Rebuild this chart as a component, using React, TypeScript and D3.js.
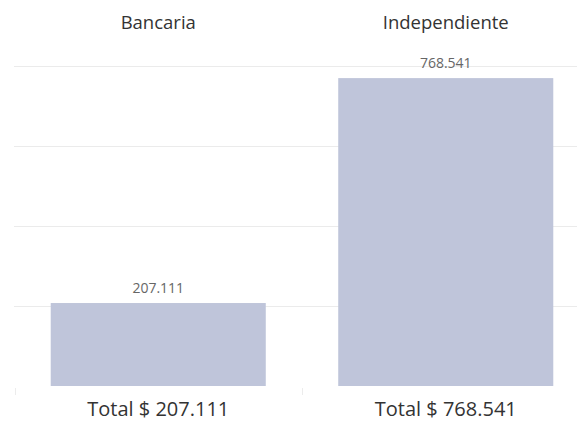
import React, { useEffect, useRef } from "react";
import * as d3 from "d3";

const categories = ["Bancaria", "Independiente"];
const values = [207111, 768541];
const yTicks = [200000, 400000, 600000, 800000];

const W = 577;
const H = 423;

const esFormat = d3.formatLocale({
  decimal: ",",
  thousands: ".",
  grouping: [3],
  currency: ["$ ", ""],
}).format(",d");

const App = () => {
  const ref = useRef<SVGSVGElement | null>(null);

  useEffect(() => {
    if (!ref.current) return;
    const svg = d3.select(ref.current);
    svg.selectAll("*").remove();

    const font = "'Open Sans', 'Noto Sans', sans-serif";
    const baseY = 386;

    const x = d3.scaleBand().domain(categories).range([14.5, 589.5]).padding(0);
    const y = d3.scaleLinear().domain([0, 800000]).range([baseY, 65.5]);
    const barW = x.bandwidth() * 0.748;

    // gridlines
    svg
      .append("g")
      .selectAll("line")
      .data(yTicks)
      .enter()
      .append("line")
      .attr("x1", 14)
      .attr("x2", W)
      .attr("y1", (d) => Math.round(y(d)) + 0.5)
      .attr("y2", (d) => Math.round(y(d)) + 0.5)
      .attr("stroke", "#ebebeb")
      .attr("stroke-width", 1);

    // category separators at bottom
    svg
      .append("g")
      .selectAll("line")
      .data(categories)
      .enter()
      .append("line")
      .attr("x1", (d) => Math.round(x(d)!) + 0.5)
      .attr("x2", (d) => Math.round(x(d)!) + 0.5)
      .attr("y1", baseY + 2)
      .attr("y2", baseY + 9)
      .attr("stroke", "#ececec");

    const data = categories.map((c, i) => ({ c, v: values[i] }));

    svg
      .selectAll(".bar")
      .data(data)
      .enter()
      .append("rect")
      .attr("class", "bar")
      .attr("x", (d) => x(d.c)! + (x.bandwidth() - barW) / 2)
      .attr("y", (d) => y(d.v))
      .attr("width", barW)
      .attr("height", (d) => baseY - y(d.v))
      .attr("fill", "#bfc5da");

    // value labels
    svg
      .selectAll(".val")
      .data(data)
      .enter()
      .append("text")
      .attr("x", (d) => x(d.c)! + x.bandwidth() / 2)
      .attr("y", (d) => y(d.v) - 10)
      .attr("text-anchor", "middle")
      .style("font-family", font)
      .style("font-size", "14px")
      .style("fill", "#666")
      .text((d) => esFormat(d.v));

    // top category labels
    svg
      .selectAll(".cat")
      .data(categories)
      .enter()
      .append("text")
      .attr("x", (d) => x(d)! + x.bandwidth() / 2)
      .attr("y", 29)
      .attr("text-anchor", "middle")
      .style("font-family", font)
      .style("font-size", "18.5px")
      .style("fill", "#333")
      .text((d) => d);

    // bottom totals
    svg
      .selectAll(".tot")
      .data(data)
      .enter()
      .append("text")
      .attr("x", (d) => x(d.c)! + x.bandwidth() / 2)
      .attr("y", 416)
      .attr("text-anchor", "middle")
      .style("font-family", font)
      .style("font-size", "20px")
      .style("fill", "#333")
      .text((d) => `Total $ ${esFormat(d.v)}`);
  }, []);

  return (
    <div style={{ position: "fixed", left: 0, top: 0, width: W, height: H, background: "#fff" }}>
      <svg ref={ref} width={W} height={H} style={{ display: "block" }} />
    </div>
  );
};

export default App;
